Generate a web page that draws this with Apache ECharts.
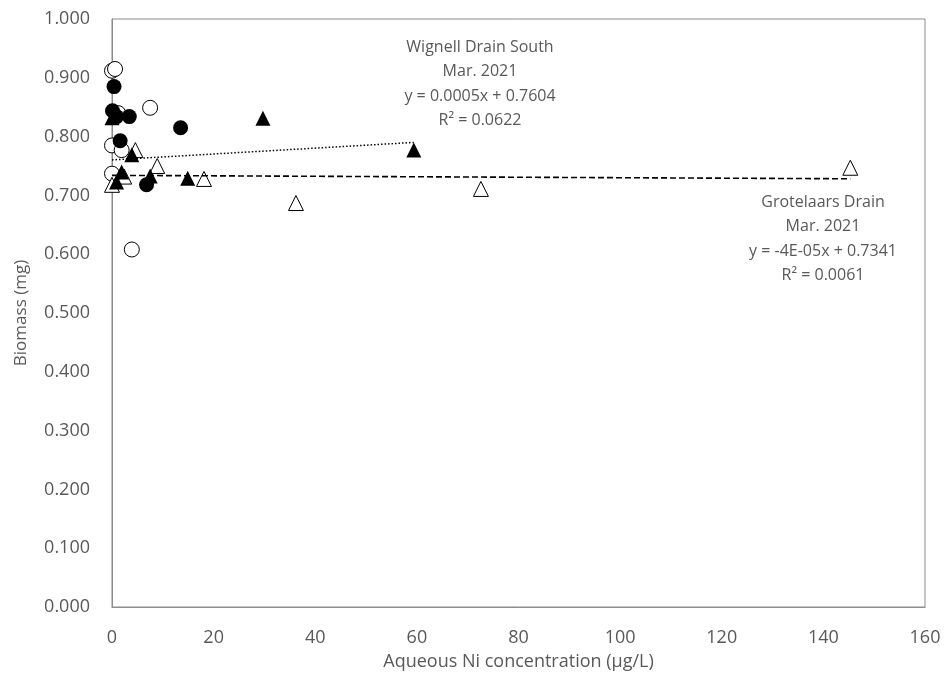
<!DOCTYPE html>
<html>
<head>
<meta charset="utf-8">
<script src="https://cdn.jsdelivr.net/npm/echarts@6/dist/echarts.min.js"></script>
<style>
  html, body { margin: 0; padding: 0; background: #fff; }
  #chart { width: 947px; height: 685px; }
</style>
</head>
<body>
<div id="chart"></div>
<script>
// open circles
var openCircles = [[0, 0.912], [0.6, 0.915], [7.5, 0.849], [1.2, 0.840], [0, 0.785], [1.9, 0.777], [0, 0.737], [3.9, 0.608]];
// filled circles
var filledCircles = [[0.4, 0.885], [0.1, 0.844], [0.9, 0.834], [3.4, 0.834], [13.5, 0.815], [1.6, 0.793], [6.8, 0.718]];
// Wignell Drain South (filled triangles)
var wignellPts = [[0, 0.832], [29.7, 0.831], [3.9, 0.769], [1.9, 0.740], [0.9, 0.723], [7.5, 0.733], [14.9, 0.729], [59.4, 0.777]];
// Grotelaars Drain (open triangles)
var grotelaarsPts = [[4.6, 0.777], [8.9, 0.750], [2.4, 0.732], [0, 0.718], [18.1, 0.728], [36.2, 0.687], [72.6, 0.711], [145.3, 0.747]];
// trend lines
var wignellTrend = [[0, 0.7604], [59.4, 0.7604 + 0.0005 * 59.4]];
var grotelaarsTrend = [[0, 0.7341], [145.3, 0.7341 - 0.00004 * 145.3]];
var wignellText = ['Wignell Drain South', 'Mar. 2021', 'y = 0.0005x + 0.7604', 'R² = 0.0622'];
var grotelaarsText = ['Grotelaars Drain', 'Mar. 2021', 'y = -4E-05x + 0.7341', 'R² = 0.0061'];

var font = 'Open Sans';
var grey = '#595959';

var chart = echarts.init(document.getElementById('chart'));

// 注释文字
var labelGraphic = function(lines, cx, top){
    return {
        type: 'text',
        x: cx,
        y: top,
        style: {
            text: lines.join('\n'),
            font: '16px "' + font + '"',
            fill: grey,
            align: 'center',
            verticalAlign: 'top',
            lineHeight: 24.5
        }
    };
};

var option = {
    animation: false,
    backgroundColor: '#fff',
    grid: {
        left: 112, right: 22, top: 19, bottom: 78,
        show: true, borderColor: '#8c8c8c', borderWidth: 1
    },
    xAxis: {
        type: 'value', min: 0, max: 160, interval: 20,
        name: 'Aqueous Ni concentration (µg/L)',
        nameLocation: 'middle', nameGap: 46,
        nameTextStyle: { fontFamily: font, fontSize: 18, color: grey },
        axisLine: { lineStyle: { color: '#8c8c8c' } },
        axisTick: { show: false },
        splitLine: { show: false },
        axisLabel: { fontFamily: font, fontSize: 18, color: grey, margin: 22 }
    },
    yAxis: {
        type: 'value', min: 0, max: 1, interval: 0.1,
        name: 'Biomass (mg)',
        nameLocation: 'middle', nameGap: 82,
        nameTextStyle: { fontFamily: font, fontSize: 17, color: grey },
        axisLine: { show: true, lineStyle: { color: '#8c8c8c' } },
        axisTick: { show: false },
        splitLine: { show: false },
        axisLabel: {
            fontFamily: font, fontSize: 18, color: grey, margin: 22,
            formatter: function(v){ return v.toFixed(3); }
        }
    },
    series: [
        {
            type: 'scatter', data: openCircles, symbol: 'circle', symbolSize: 15,
            itemStyle: { color: '#fff', borderColor: '#000', borderWidth: 1, opacity: 1 }
        },
        {
            type: 'scatter', data: filledCircles, symbol: 'circle', symbolSize: 15,
            itemStyle: { color: '#000', opacity: 1 }
        },
        {
            type: 'scatter', data: grotelaarsPts, symbol: 'triangle', symbolSize: 15,
            itemStyle: { color: '#fff', borderColor: '#000', borderWidth: 1, opacity: 1 }
        },
        {
            type: 'scatter', data: wignellPts, symbol: 'triangle', symbolSize: 15,
            itemStyle: { color: '#000', opacity: 1 }
        },
        {
            type: 'line', data: wignellTrend, symbol: 'none',
            lineStyle: { color: '#000', width: 1.5, type: [1.5, 2] }
        },
        {
            type: 'line', data: grotelaarsTrend, symbol: 'none',
            lineStyle: { color: '#000', width: 1.6, type: [6, 3] }
        }
    ],
    graphic: [
        labelGraphic(wignellText, 480, 35),
        labelGraphic(grotelaarsText, 823, 190)
    ]
};
chart.setOption(option);
</script>
</body>
</html>
